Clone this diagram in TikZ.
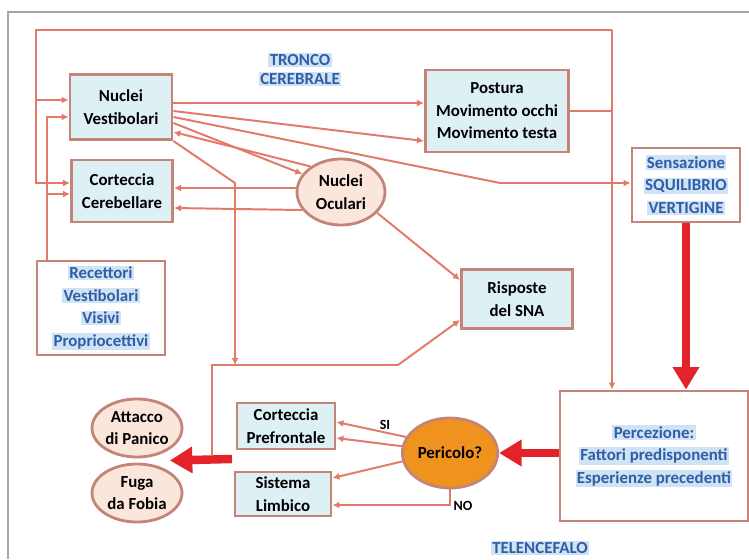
\documentclass[tikz,border=0pt]{standalone}
\usepackage{fontspec}
\setmainfont{Carlito}
\usepackage{xcolor}
\usetikzlibrary{shapes.geometric,arrows.meta,calc,positioning}
\definecolor{boxedge}{HTML}{C48478}
\definecolor{cellblue}{HTML}{DDF0F4}
\definecolor{linkred}{HTML}{E27A6A}
\definecolor{bigred}{HTML}{E3232A}
\definecolor{textblue}{HTML}{2F5EA8}
\definecolor{markblue}{HTML}{CFE3F4}
\definecolor{ovalfill}{HTML}{FBE6DC}
\definecolor{dangerfill}{HTML}{F0921E}
\setlength{\fboxsep}{1pt}
\newcommand{\hilite}[1]{\colorbox{markblue}{#1}}
\tikzset{
    plain-box/.style = {draw=boxedge, fill=cellblue, line width=2pt, rectangle, align=center, inner sep=2pt, font=\bfseries\fontsize{12}{16}\selectfont},
    blue-box/.style = {plain-box, fill=white, text=textblue},
    oval-box/.style = {plain-box, ellipse, fill=ovalfill, inner sep=0pt},
    link-line/.style = {draw=linkred, line width=1.4pt, -{Latex[length=5pt,width=5pt]}},
    big-arrow/.style = {draw=bigred, line width=6pt, -{Triangle[length=16pt,width=18pt]}},
    area-label/.style = {fill=markblue, text=textblue, inner sep=1pt, font=\bfseries\fontsize{12}{14}\selectfont},
    flag-label/.style = {font=\bfseries\fontsize{10}{12}\selectfont, inner sep=1pt},
}

\begin{document}
\begin{tikzpicture}[x=0.025cm, y=-0.025cm]
\useasboundingbox (0,0) rectangle (749,559);
\draw[gray!70, line width=2pt] (749,12) -- (8,12) -- (8,559);

% tronco cerebrale
\node[plain-box, minimum width=2.55cm, minimum height=1.63cm] (nuclei) at (121,107) {Nuclei\\Vestibolari};
\node[plain-box, minimum width=2.53cm, minimum height=1.55cm] (cereb) at (122,191) {Corteccia\\Cerebellare};
\node[oval-box, minimum width=2.2cm, minimum height=1.65cm] (oculari) at (341,192) {Nuclei\\Oculari};
\node[plain-box, minimum width=3.58cm, minimum height=2.05cm] (postura) at (497,111) {Postura\\Movimento occhi\\Movimento testa};
\node[blue-box, minimum width=2.7cm, minimum height=1.85cm] (sens) at (686,185) {\hilite{Sensazione}\\\hilite{SQUILIBRIO}\\\hilite{VERTIGINE}};
\node[plain-box, minimum width=2.78cm, minimum height=1.48cm] (risposte) at (517,299) {Risposte\\del SNA};
\node[blue-box, minimum width=3.2cm, minimum height=2.35cm] (recettori) at (101,308) {\hilite{Recettori}\\\hilite{Vestibolari}\\\hilite{Visivi}\\\hilite{Propriocettivi}};
\node[area-label] (tronco) at (300,60) {TRONCO};
\node[area-label, below=3pt of tronco] (cerebrale) {CEREBRALE};

% telencefalo
\node[blue-box, minimum width=4.7cm, minimum height=3.25cm] (perc) at (654,456) {\hilite{Percezione:}\\\hilite{Fattori predisponenti}\\\hilite{Esperienze precedenti}};
\node[oval-box, fill=dangerfill, minimum width=2.38cm, minimum height=1.75cm] (pericolo) at (450,453) {Pericolo?};
\node[plain-box, minimum width=2.45cm, minimum height=1.15cm] (cpref) at (286,426) {Corteccia\\Prefrontale};
\node[plain-box, minimum width=2.4cm, minimum height=1.1cm] (limbico) at (283,494) {Sistema\\Limbico};
\node[oval-box, minimum width=2.25cm, minimum height=1.45cm] (attacco) at (137,428) {Attacco\\di Panico};
\node[oval-box, minimum width=2.25cm, minimum height=1.45cm] (fuga) at (137,493) {Fuga\\da Fobia};
\node[flag-label] (si) at (385,425) {SI};
\node[flag-label] (no) at (463,506) {NO};
\node[area-label] (telenc) at (540,548) {TELENCEFALO};

% anello esterno
\coordinate (loop-ne) at (612,30);
\coordinate (loop-nw) at (36,30);
\draw[link-line] (loop-ne) -- (perc.north -| loop-ne);
\draw[link-line, -] (postura.east) -- (postura.east -| loop-ne);
\draw[link-line] (loop-ne) -- (loop-nw) |- ($(nuclei.west)+(0,-7)$);
\draw[link-line] (loop-nw) |- ($(cereb.west)+(0,-8)$);

% recettori
\coordinate (rec-up) at ($(recettori.north west)+(11,0)$);
\draw[link-line] (rec-up) |- ($(nuclei.west)+(0,10)$);
\draw[link-line] (rec-up) |- ($(cereb.west)+(0,3)$);

% nuclei vestibolari
\coordinate (sens-bend) at (500,183);
\coordinate (tel-drop) at (235,183);
\coordinate (tel-nw) at (212,365);
\draw[link-line] ($(nuclei.east)+(0,-4)$) -- ($(postura.west)+(0,-8)$);
\draw[link-line] ($(nuclei.east)+(0,4)$) -- ($(postura.west)+(0,30)$);
\draw[link-line] ($(nuclei.east)+(0,10)$) -- (sens-bend) -- (sens-bend -| sens.west);
\draw[link-line] ($(nuclei.east)+(0,16)$) -- (oculari.155);
\draw[link-line] (oculari.140) -- ($(nuclei.east)+(0,25)$);
\draw[link-line] (nuclei.south east) -- (tel-drop) -- (tel-drop |- tel-nw);

% nuclei oculari
\draw[link-line] ($(oculari.west)+(0,-4)$) -- ($(cereb.east)+(0,-3)$);
\draw[link-line] (oculari.205) -- ($(cereb.east)+(0,17)$);
\draw[link-line] (oculari.-30) -- ($(risposte.west)+(0,-19)$);

% telencefalo
\coordinate (tel-ne) at (398,365);
\coordinate (tel-sw) at (212,455);
\coordinate (tel-exit) at (232,459);
\draw[link-line] (tel-sw) -- (tel-nw) -- (tel-ne) -- ($(risposte.west)+(0,21)$);
\draw[link-line] (pericolo.160) -- ($(cpref.east)+(0,-4)$);
\draw[link-line] (pericolo.172) -- ($(cpref.east)+(0,12)$);
\draw[link-line] (pericolo.190) -- ($(limbico.east)+(0,-16)$);
\draw[link-line] (pericolo.south) |- ($(limbico.east)+(0,11)$);

% frecce grandi
\draw[big-arrow] (sens.south) -- (perc.north -| sens.south);
\draw[big-arrow] (pericolo.east -| perc.west) -- (pericolo.east);
\draw[big-arrow] (tel-exit) -- ($(attacco.south east)!0.5!(fuga.north east)$);
\end{tikzpicture}
\end{document}
